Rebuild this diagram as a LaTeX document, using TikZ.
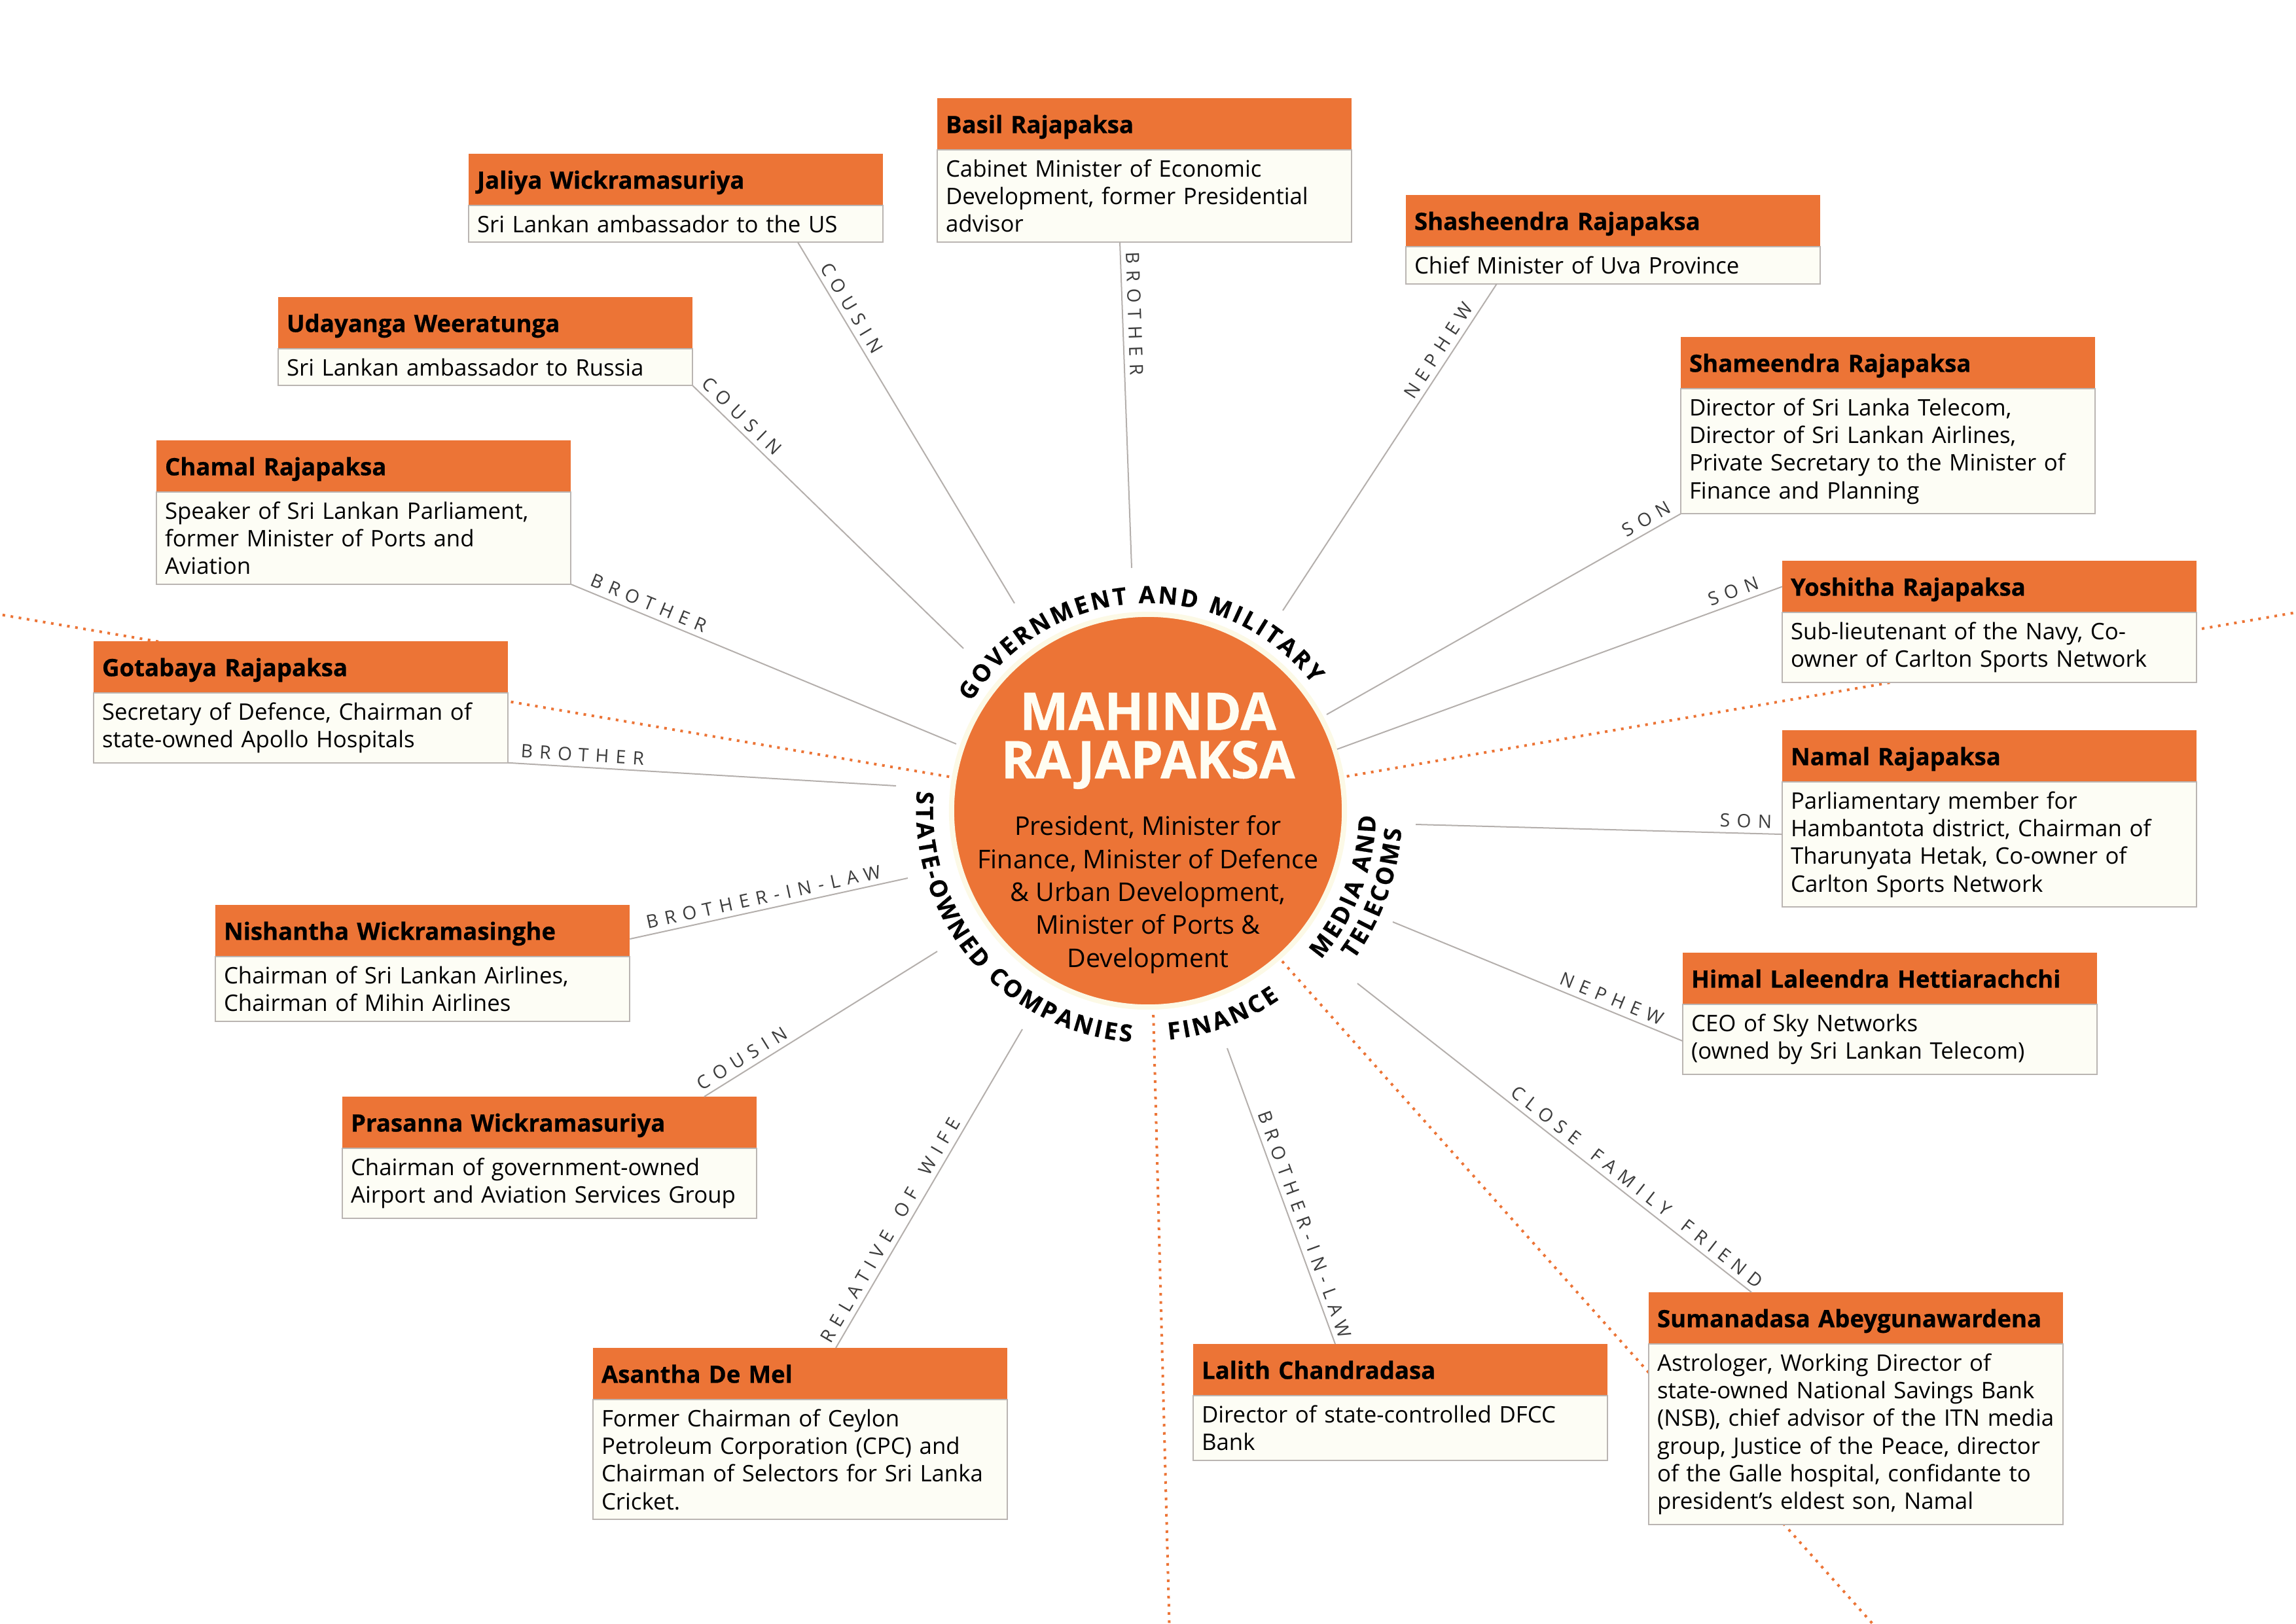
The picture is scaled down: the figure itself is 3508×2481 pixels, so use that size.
\documentclass[tikz,border=0pt]{standalone}
\usepackage{fontspec}
\setmainfont{Open Sans}[BoldFeatures={FakeBold=0.6}]
\newfontfamily\relfamily{Open Sans}[LetterSpace=37]
\usetikzlibrary{positioning,calc,decorations.text}
\definecolor{hdorange}{RGB}{236,116,54}
\definecolor{cream}{RGB}{253,253,245}
\definecolor{ringcream}{RGB}{252,249,230}
\definecolor{boxgrey}{RGB}{186,181,178}
\definecolor{linkgrey}{RGB}{180,175,172}
\definecolor{relgrey}{RGB}{60,60,60}
\definecolor{titlecream}{RGB}{255,253,242}
\newcommand{\catstyle}{\bfseries\fontsize{10.3pt}{12pt}\selectfont}

\begin{document}
\begin{tikzpicture}[x=0.01cm, y=-0.01cm,
  head/.style={anchor=north west, fill=hdorange, minimum width=6.33cm, minimum height=0.79cm, text width=6.07cm, text depth=0pt, inner xsep=0.13cm, inner ysep=0pt, outer sep=0pt, align=left, font=\bfseries\fontsize{10.4pt}{12pt}\selectfont},
  desc/.style={fill=cream, draw=boxgrey, line width=0.57pt, text width=6.07cm, inner xsep=0.13cm, inner ysep=4.2pt, outer sep=0pt, align=left, font=\fontsize{9.9pt}{12pt}\selectfont},
  link/.style={draw=linkgrey, line width=0.57pt},
  rel/.style={sloped, above, inner sep=2.2pt, text=relgrey, font=\relfamily\fontsize{8pt}{9pt}\selectfont},
  sep/.style={draw=hdorange, line width=0.04cm, dash pattern=on 0.04cm off 0.085cm},
  cat/.style={decorate, decoration={text effects along path, text={#1}, text align=center,
    text effects/.cd, text along path, characters={inner xsep=0.55pt, font=\catstyle},
    character widths={inner xsep=0.55pt, font=\catstyle}}}
]
\useasboundingbox (0,0) rectangle (3508,2481);
\clip (0,0) rectangle (3508,2481);

\node[circle, fill=hdorange, draw=ringcream, line width=0.08cm, minimum size=6cm, inner sep=0pt] (mahinda) at (1754,1239) {};

\draw[sep] (mahinda.center) ++(170.3:3.08cm) -- ++(170.3:25cm);
\draw[sep] (mahinda.center) ++(9.8:3.08cm) -- ++(9.8:25cm);
\draw[sep] (mahinda.center) ++(-88.5:3.12cm) -- ++(-88.5:25cm);
\draw[sep] (mahinda.center) ++(-48.3:3.08cm) -- ++(-48.3:25cm);

\node[head] (basil) at (1432,150) {Basil Rajapaksa};
\node[desc, below=0pt of basil] (basil-txt) {Cabinet Minister of Economic\\Development, former Presidential\\advisor};
\node[head] (jaliya) at (716,235) {Jaliya Wickramasuriya};
\node[desc, below=0pt of jaliya] (jaliya-txt) {Sri Lankan ambassador to the US};
\node[head] (udayanga) at (425,454) {Udayanga Weeratunga};
\node[desc, below=0pt of udayanga] (udayanga-txt) {Sri Lankan ambassador to Russia};
\node[head] (chamal) at (239,673) {Chamal Rajapaksa};
\node[desc, below=0pt of chamal] (chamal-txt) {Speaker of Sri Lankan Parliament,\\former Minister of Ports and\\Aviation};
\node[head] (gotabaya) at (143,980) {Gotabaya Rajapaksa};
\node[desc, below=0pt of gotabaya] (gotabaya-txt) {Secretary of Defence, Chairman of\\state-owned Apollo Hospitals};
\node[head] (nishantha) at (329,1383) {Nishantha Wickramasinghe};
\node[desc, below=0pt of nishantha] (nishantha-txt) {Chairman of Sri Lankan Airlines,\\Chairman of Mihin Airlines};
\node[head] (prasanna) at (523,1676) {Prasanna Wickramasuriya};
\node[desc, below=0pt of prasanna] (prasanna-txt) {Chairman of government-owned\\Airport and Aviation Services Group};
\node[head] (asantha) at (906,2060) {Asantha De Mel};
\node[desc, below=0pt of asantha] (asantha-txt) {Former Chairman of Ceylon\\Petroleum Corporation (CPC) and\\Chairman of Selectors for Sri Lanka\\Cricket.};
\node[head] (lalith) at (1823,2054) {Lalith Chandradasa};
\node[desc, below=0pt of lalith] (lalith-txt) {Director of state-controlled DFCC\\Bank};
\node[head] (sumanadasa) at (2519,1975) {Sumanadasa Abeygunawardena};
\node[desc, below=0pt of sumanadasa] (sumanadasa-txt) {Astrologer, Working Director of\\state-owned National Savings Bank\\(NSB), chief advisor of the ITN media\\group, Justice of the Peace, director\\of the Galle hospital, confidante to\\president’s eldest son, Namal};
\node[head] (himal) at (2571,1456) {Himal Laleendra Hettiarachchi};
\node[desc, below=0pt of himal] (himal-txt) {CEO of Sky Networks\\(owned by Sri Lankan Telecom)};
\node[head] (namal) at (2723,1116) {Namal Rajapaksa};
\node[desc, below=0pt of namal] (namal-txt) {Parliamentary member for\\Hambantota district, Chairman of\\Tharunyata Hetak, Co-owner of\\Carlton Sports Network};
\node[head] (yoshitha) at (2723,857) {Yoshitha Rajapaksa};
\node[desc, below=0pt of yoshitha] (yoshitha-txt) {Sub-lieutenant of the Navy, Co-\\owner of Carlton Sports Network};
\node[head] (shameendra) at (2568,515) {Shameendra Rajapaksa};
\node[desc, below=0pt of shameendra] (shameendra-txt) {Director of Sri Lanka Telecom,\\Director of Sri Lankan Airlines,\\Private Secretary to the Minister of\\Finance and Planning};
\node[head] (shasheendra) at (2148,298) {Shasheendra Rajapaksa};
\node[desc, below=0pt of shasheendra] (shasheendra-txt) {Chief Minister of Uva Province};

\coordinate (e-basil) at (1729,868);
\coordinate (e-jaliya) at (1550,922);
\coordinate (e-udayanga) at (1472,991);
\coordinate (e-chamal) at (1461,1137);
\coordinate (e-gotabaya) at (1369,1201);
\coordinate (e-nishantha) at (1387,1342);
\coordinate (e-prasanna) at (1432,1454);
\coordinate (e-asantha) at (1562,1573);
\coordinate (e-lalith) at (1875,1602);
\coordinate (e-sumanadasa) at (2074,1503);
\coordinate (e-himal) at (2128,1409);
\coordinate (e-namal) at (2163,1260);
\coordinate (e-yoshitha) at (2043,1145);
\coordinate (e-shameendra) at (2027,1092);
\coordinate (e-shasheendra) at (1960,933);

\draw[link] ($(basil-txt.south west)+(279,0)$) -- node[rel, pos=0.22] {BROTHER} (e-basil);
\draw[link] ($(jaliya-txt.south west)+(503,0)$) -- node[rel, pos=0.2] {COUSIN} (e-jaliya);
\draw[link] (udayanga-txt.south east) -- node[rel, pos=0.15] {COUSIN} (e-udayanga);
\draw[link] (chamal-txt.south east) -- node[rel, pos=0.19] {BROTHER} (e-chamal);
\draw[link] (gotabaya-txt.south east) -- node[rel, pos=0.19] {BROTHER} (e-gotabaya);
\draw[link] ($(nishantha.south east)+(0,-27)$) -- node[rel, pos=0.49] {BROTHER-IN-LAW} (e-nishantha);
\draw[link] ($(prasanna.north west)+(553,0)$) -- node[rel, pos=0.19] {COUSIN} (e-prasanna);
\draw[link] ($(asantha.north west)+(371,0)$) -- node[rel, pos=0.35] {RELATIVE\hspace{0.4em} OF\hspace{0.4em} WIFE} (e-asantha);
\draw[link] ($(lalith.north west)+(217,0)$) -- node[rel, pos=0.39] {BROTHER-IN-LAW} (e-lalith);
\draw[link] ($(sumanadasa.north west)+(157,0)$) -- node[rel, pos=0.31] {CLOSE\hspace{0.4em} FAMILY\hspace{0.4em} FRIEND} (e-sumanadasa);
\draw[link] ($(himal-txt.north west)+(0,56)$) -- node[rel, pos=0.26] {NEPHEW} (e-himal);
\draw[link] ($(namal-txt.north west)+(0,80)$) -- node[rel, pos=0.1] {SON} (e-namal);
\draw[link] (yoshitha.west) -- node[rel, pos=0.1] {SON} (e-yoshitha);
\draw[link] (shameendra-txt.south west) -- node[rel, pos=0.08] {SON} (e-shameendra);
\draw[link] ($(shasheendra-txt.south west)+(139,0)$) -- node[rel, pos=0.225] {NEPHEW} (e-shasheendra);

\path[cat={GOVERNMENT AND MILITARY}] ($(mahinda.center)+(173:3.17cm)$) arc[start angle=173, end angle=13, radius=3.17cm];
\path[cat={STATE-OWNED COMPANIES}] ($(mahinda.center)+(150:3.54cm)$) arc[start angle=150, end angle=291, radius=3.54cm];
\path[cat={FINANCE}] ($(mahinda.center)+(-110:3.51cm)$) arc[start angle=-110, end angle=-30, radius=3.51cm];
\path[cat={MEDIA AND}] ($(mahinda.center)+(-60:3.48cm)$) arc[start angle=-60, end angle=18, radius=3.48cm];
\path[cat={TELECOMS}] ($(mahinda.center)+(-60:3.88cm)$) arc[start angle=-60, end angle=20, radius=3.88cm];

\node[anchor=north, inner sep=0pt, align=center, text=titlecream, font=\bfseries\fontsize{22.5pt}{21pt}\selectfont] (title) at (1754,1058) {MAHINDA\\RAJAPAKSA};
\node[anchor=north, inner sep=0pt, align=center, font=\fontsize{11.2pt}{14.3pt}\selectfont] (role) at (1754,1246) {President, Minister for\\Finance, Minister of Defence\\\& Urban Development,\\Minister of Ports \&\\Development};
\end{tikzpicture}
\end{document}
